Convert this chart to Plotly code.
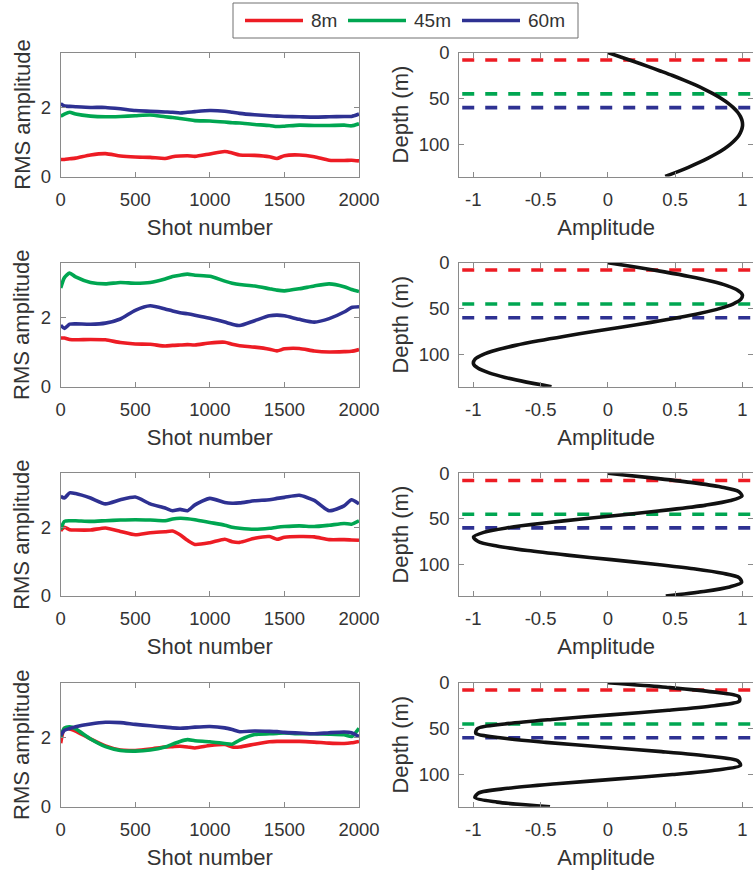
import plotly.graph_objects as go

# ---------------- data ----------------
SHOTS = [0, 25, 60, 100, 200, 300, 400, 500, 600, 700, 750, 800, 850, 900, 1000,
         1100, 1150, 1200, 1300, 1400, 1450, 1500, 1600, 1700, 1800, 1900, 1950, 2000]

RED_1 = [0.49, 0.49, 0.51, 0.53, 0.62, 0.66, 0.59, 0.56, 0.55, 0.52, 0.57, 0.59, 0.60, 0.58, 0.65,
         0.72, 0.68, 0.62, 0.61, 0.57, 0.52, 0.60, 0.62, 0.57, 0.47, 0.46, 0.47, 0.45]
GREEN_1 = [1.74, 1.80, 1.85, 1.80, 1.74, 1.72, 1.73, 1.75, 1.77, 1.72, 1.70, 1.67, 1.64, 1.61, 1.60,
           1.57, 1.55, 1.54, 1.50, 1.47, 1.44, 1.45, 1.48, 1.47, 1.47, 1.48, 1.46, 1.52]
BLUE_1 = [2.10, 2.03, 2.02, 2.01, 1.99, 1.99, 1.95, 1.90, 1.88, 1.86, 1.85, 1.83, 1.85, 1.87, 1.90,
          1.88, 1.85, 1.82, 1.78, 1.75, 1.74, 1.73, 1.72, 1.71, 1.72, 1.73, 1.73, 1.80]

RED_2 = [1.40, 1.40, 1.36, 1.35, 1.36, 1.35, 1.27, 1.23, 1.22, 1.17, 1.19, 1.20, 1.21, 1.20, 1.26,
         1.28, 1.22, 1.18, 1.14, 1.08, 1.03, 1.09, 1.10, 1.03, 1.00, 1.01, 1.02, 1.07]
GREEN_2 = [2.84, 3.14, 3.27, 3.16, 3.00, 2.96, 3.00, 2.98, 3.00, 3.10, 3.17, 3.21, 3.24, 3.21, 3.18,
           3.04, 2.98, 2.94, 2.90, 2.82, 2.78, 2.76, 2.82, 2.90, 2.96, 2.88, 2.80, 2.74]
BLUE_2 = [1.77, 1.68, 1.80, 1.81, 1.80, 1.83, 1.95, 2.20, 2.33, 2.24, 2.18, 2.13, 2.10, 2.06, 1.97,
          1.86, 1.80, 1.76, 1.90, 2.04, 2.06, 2.04, 1.94, 1.86, 1.96, 2.15, 2.28, 2.30]

RED_3 = [1.90, 2.00, 1.93, 1.92, 1.92, 1.98, 1.88, 1.78, 1.84, 1.87, 1.89, 1.78, 1.62, 1.50, 1.55,
         1.65, 1.58, 1.56, 1.68, 1.73, 1.65, 1.71, 1.73, 1.72, 1.64, 1.64, 1.63, 1.62]
GREEN_3 = [1.94, 2.17, 2.19, 2.19, 2.17, 2.19, 2.21, 2.22, 2.21, 2.19, 2.24, 2.26, 2.25, 2.22, 2.14,
           2.06, 2.00, 1.97, 1.94, 1.97, 2.00, 2.02, 2.04, 2.02, 2.06, 2.11, 2.09, 2.19]
BLUE_3 = [2.90, 2.85, 3.00, 2.98, 2.85, 2.68, 2.80, 2.88, 2.68, 2.56, 2.48, 2.52, 2.48, 2.65, 2.84,
          2.72, 2.70, 2.71, 2.77, 2.80, 2.84, 2.87, 2.93, 2.78, 2.48, 2.62, 2.80, 2.68]

RED_4 = [1.83, 2.26, 2.24, 2.18, 1.95, 1.75, 1.63, 1.62, 1.66, 1.72, 1.73, 1.74, 1.72, 1.69, 1.76,
         1.79, 1.72, 1.72, 1.80, 1.87, 1.88, 1.88, 1.88, 1.86, 1.83, 1.82, 1.84, 1.88]
GREEN_4 = [2.02, 2.26, 2.30, 2.24, 1.95, 1.73, 1.62, 1.60, 1.63, 1.72, 1.80, 1.88, 1.93, 1.90, 1.87,
           1.82, 1.80, 1.92, 2.08, 2.10, 2.11, 2.12, 2.10, 2.10, 2.09, 2.07, 2.02, 2.26]
BLUE_4 = [2.05, 2.20, 2.25, 2.30, 2.38, 2.43, 2.42, 2.37, 2.33, 2.29, 2.27, 2.26, 2.27, 2.29, 2.31,
          2.27, 2.22, 2.16, 2.18, 2.17, 2.16, 2.14, 2.12, 2.10, 2.13, 2.15, 2.13, 2.02]

DEPTH = [0, 5, 10, 15, 20, 25, 30, 35, 40, 45, 50, 55, 60, 65, 70, 75, 80, 85, 90, 95,
         100, 105, 110, 115, 120, 125, 130, 135]
MODE_1 = [0.0, 0.10, 0.199, 0.296, 0.389, 0.480, 0.565, 0.645, 0.718, 0.784, 0.842, 0.892, 0.932, 0.964,
          0.986, 0.998, 1.0, 0.991, 0.974, 0.946, 0.909, 0.863, 0.808, 0.745, 0.675, 0.598, 0.515, 0.426]
MODE_2 = [0.0, 0.215, 0.420, 0.605, 0.762, 0.884, 0.964, 0.999, 0.987, 0.929, 0.828, 0.687, 0.515, 0.319,
          0.108, -0.108, -0.319, -0.515, -0.687, -0.828, -0.929, -0.987, -0.999, -0.964, -0.883, -0.763,
          -0.605, -0.419]
MODE_3 = [0.0, 0.326, 0.616, 0.840, 0.971, 0.996, 0.912, 0.729, 0.466, 0.153, -0.178, -0.489, -0.747,
          -0.923, -0.998, -0.964, -0.825, -0.596, -0.301, 0.026, 0.350, 0.637, 0.853, 0.976, 0.993, 0.905,
          0.710, 0.430]
MODE_4 = [0.0, 0.432, 0.778, 0.973, 0.977, 0.790, 0.448, 0.017, -0.415, -0.767, -0.969, -0.981, -0.801,
          -0.463, -0.036, 0.399, 0.756, 0.964, 0.985, 0.812, 0.480, 0.054, -0.383, -0.744, -0.959, -0.988,
          -0.823, -0.43]

DEPTH_MARKS = [8, 45, 60]
LABELS = ["8m", "45m", "60m"]
COLORS = ["#ED1C24", "#00A651", "#2E3192"]

X_TICKS = [0, 500, 1000, 1500, 2000]
Y_TICKS = [0, 2]
AMP_TICKS = [-1, -0.5, 0, 0.5, 1]
AMP_TICKTEXT = ["-1", "-0.5", "0", "0.5", "1"]
DEPTH_TICKS = [0, 50, 100]

RMS_PANELS = [(RED_1, GREEN_1, BLUE_1), (RED_2, GREEN_2, BLUE_2),
              (RED_3, GREEN_3, BLUE_3), (RED_4, GREEN_4, BLUE_4)]
MODES = [MODE_1, MODE_2, MODE_3, MODE_4]

# ---------------- layout ----------------
W, H = 753, 875
FONT = "Liberation Sans, Arial, sans-serif"
TXT = "#333333"
AX = "#8a8a8a"

left_x = [60.7 / W, 359.0 / W]
right_x = [459.3 / W, 1.0]
rows_px = [(52.6, 176.5), (262.7, 386.7), (473.3, 596.0), (682.7, 806.7)]

fig = go.Figure()
layout = dict(width=W, height=H, margin=dict(l=0, r=0, t=0, b=0, autoexpand=False),
              paper_bgcolor="white", plot_bgcolor="white", showlegend=False,
              font=dict(family=FONT, color=TXT, size=18.5))

common_axis = dict(showline=True, linecolor=AX, linewidth=1, mirror="allticks",
                   ticks="inside", ticklen=5, tickcolor=AX, tickwidth=1,
                   showgrid=False, zeroline=False, automargin=False,
                   tickfont=dict(family=FONT, size=18.5, color=TXT))

shapes = []
for i, (top, bot) in enumerate(rows_px):
    dom = [1 - bot / H, 1 - top / H]
    la = 2 * i + 1
    ra = 2 * i + 2
    lx = "x" if la == 1 else f"x{la}"
    ly = "y" if la == 1 else f"y{la}"
    rx = f"x{ra}"
    ry = f"y{ra}"

    for vals, col in zip(RMS_PANELS[i], COLORS):
        fig.add_trace(go.Scatter(x=SHOTS, y=vals, mode="lines", xaxis=lx, yaxis=ly,
                                 line=dict(color=col, width=3.6, shape="spline", smoothing=0.6),
                                 hoverinfo="skip"))
    fig.add_trace(go.Scatter(x=MODES[i], y=DEPTH, mode="lines", xaxis=rx, yaxis=ry,
                             line=dict(color="#111111", width=3.6, shape="spline", smoothing=0.8),
                             hoverinfo="skip"))

    layout[lx.replace("x", "xaxis")] = dict(common_axis, domain=left_x, anchor=ly,
                                            range=[0, 2000], tickvals=X_TICKS,
                                            ticklabelstandoff=6,
                                            title=dict(text="Shot number", standoff=10,
                                                       font=dict(size=22, family=FONT, color=TXT)))
    layout[ly.replace("y", "yaxis")] = dict(common_axis, domain=dom, anchor=lx,
                                            range=[0, 3.57], tickvals=Y_TICKS,
                                            ticklabelstandoff=5,
                                            title=dict(text="RMS amplitude", standoff=4,
                                                       font=dict(size=22, family=FONT, color=TXT)))
    layout[rx.replace("x", "xaxis")] = dict(common_axis, domain=right_x, anchor=ry,
                                            range=[-1.104, 1.078], tickvals=AMP_TICKS,
                                            ticktext=AMP_TICKTEXT, ticklabelstandoff=6,
                                            title=dict(text="Amplitude", standoff=10,
                                                       font=dict(size=22, family=FONT, color=TXT)))
    layout[ry.replace("y", "yaxis")] = dict(common_axis, domain=dom, anchor=rx,
                                            range=[135, 0], tickvals=DEPTH_TICKS,
                                            ticklabelstandoff=5,
                                            title=dict(text="Depth (m)", standoff=4,
                                                       font=dict(size=22, family=FONT, color=TXT)))
    for d, col in zip(DEPTH_MARKS, COLORS):
        shapes.append(dict(type="line", xref=f"{rx} domain", yref=ry, x0=0.01, x1=1, y0=d, y1=d,
                           line=dict(color=col, width=3.6, dash="12px,11px"), layer="below"))

# ---------------- manual legend ----------------
leg_x0, leg_x1, leg_y0, leg_y1 = 233, 578, 3, 38
shapes.append(dict(type="rect", xref="paper", yref="paper",
                   x0=leg_x0 / W, x1=leg_x1 / W, y0=1 - leg_y1 / H, y1=1 - leg_y0 / H,
                   line=dict(color="#707070", width=1), fillcolor="white"))
seg_starts = [245, 348, 462]
annotations = []
for s, lab, col in zip(seg_starts, LABELS, COLORS):
    shapes.append(dict(type="line", xref="paper", yref="paper",
                       x0=s / W, x1=(s + 58) / W, y0=1 - 20.5 / H, y1=1 - 20.5 / H,
                       line=dict(color=col, width=3.6)))
    annotations.append(dict(text=lab, xref="paper", yref="paper", x=(s + 64) / W, y=1 - 20.5 / H,
                            xanchor="left", yanchor="middle", showarrow=False,
                            font=dict(size=19, family=FONT, color=TXT)))

layout["shapes"] = shapes
layout["annotations"] = annotations
fig.update_layout(**layout)
fig.write_html("out.html")
